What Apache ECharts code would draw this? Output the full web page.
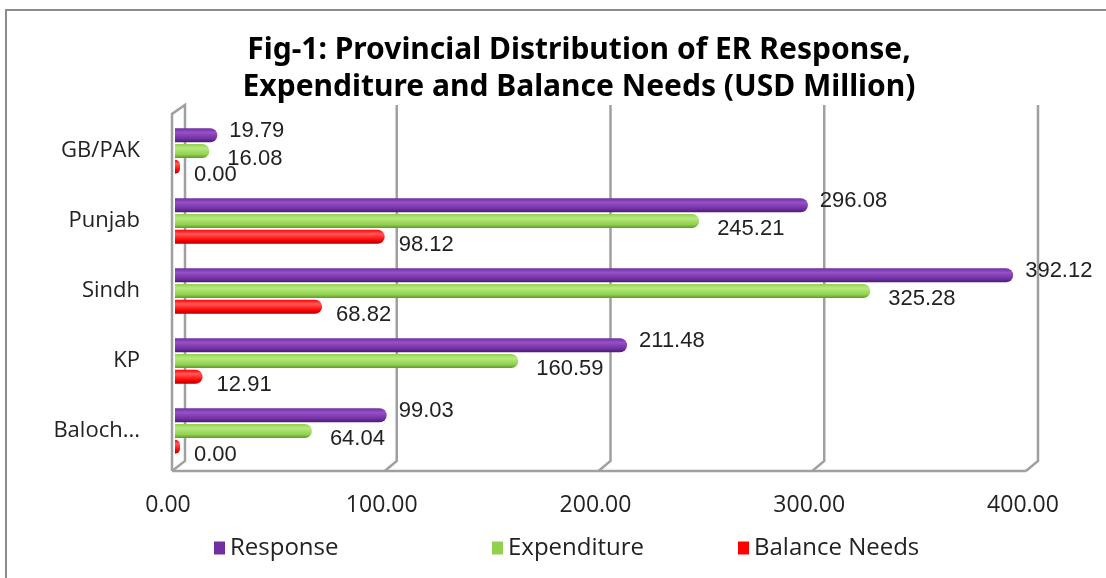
<!DOCTYPE html>
<html>
<head>
<meta charset="utf-8">
<title>Fig-1</title>
<script src="https://cdn.jsdelivr.net/npm/echarts@6/dist/echarts.min.js"></script>
<style>
  html, body { margin: 0; padding: 0; background: #fff; }
  #chart { width: 1106px; height: 578px; }
</style>
</head>
<body>
<div id="chart"></div>
<script>
// provinces, top to bottom as in the figure
const provinces = ['GB/PAK', 'Punjab', 'Sindh', 'KP', 'Balochistan'];
const response = [19.79, 296.08, 392.12, 211.48, 99.03];
const expenditure = [16.08, 245.21, 325.28, 160.59, 64.04];
const balanceNeeds = [0.00, 98.12, 68.82, 12.91, 0.00];
const xTicks = [0, 100, 200, 300, 400];

const seriesColors = { 'Response': '#7030a0', 'Expenditure': '#92d050', 'Balance Needs': '#ff0000' };

const labelFont = '"Open Sans", "Noto Sans", sans-serif';
const valueFont = '"Liberation Sans", Arial, sans-serif';
const wallColor = '#a0a0a0';

// cylinder look: light band across the bar, darker edges
function tube(light, mid, dark) {
  return new echarts.graphic.LinearGradient(0, 0, 0, 1, [
    { offset: 0, color: mid },
    { offset: 0.3, color: light },
    { offset: 0.75, color: mid },
    { offset: 1, color: dark }
  ]);
}

function makeSeries(name, data, colors, label, extra) {
  return Object.assign({
    name: name,
    type: 'bar',
    data: data,
    barWidth: 14,
    barGap: '12%',
    itemStyle: {
      color: tube(colors[0], colors[1], colors[2]),
      borderRadius: [0, 7, 7, 0]
    },
    label: Object.assign({
      show: true,
      position: 'right',
      color: '#222',
      fontFamily: valueFont,
      fontSize: 22,
      formatter: (p) => p.value.toFixed(2)
    }, label)
  }, extra || {});
}

const chart = echarts.init(document.getElementById('chart'));

const option = {
  backgroundColor: '#fff',
  animation: false,
  title: {
    text: 'Fig-1: Provincial Distribution of ER Response,\nExpenditure and Balance Needs (USD Million)',
    left: 574,
    textAlign: 'center',
    top: 27,
    textStyle: {
      fontFamily: '"Noto Sans", "Open Sans", sans-serif',
      fontWeight: 'bold',
      fontSize: 30,
      lineHeight: 37,
      color: '#000'
    }
  },
  legend: [
    { left: 209, name: 'Response' },
    { left: 487, name: 'Expenditure' },
    { left: 733, name: 'Balance Needs' }
  ].map((l) => ({
    left: l.left,
    top: 531,
    data: [{ name: l.name, itemStyle: { color: seriesColors[l.name] } }],
    icon: 'rect',
    itemWidth: 11,
    itemHeight: 13,
    itemGap: 0,
    textStyle: { fontFamily: labelFont, fontSize: 24, color: '#222' }
  })),
  grid: {
    left: 175,
    right: 76,
    top: 116,
    bottom: 112
  },
  xAxis: {
    type: 'value',
    min: xTicks[0],
    max: xTicks[xTicks.length - 1],
    interval: 100,
    axisLine: { show: false },
    axisTick: { show: false },
    splitLine: { show: false },
    axisLabel: {
      margin: 28,
      fontFamily: labelFont,
      fontSize: 23,
      color: '#222',
      padding: [0, 14, 0, 0],
      formatter: (v) => v.toFixed(2)
    }
  },
  yAxis: {
    type: 'category',
    data: provinces,
    inverse: true,
    axisLine: { show: false },
    axisTick: { show: false },
    axisLabel: {
      margin: 35,
      fontFamily: labelFont,
      fontSize: 22,
      color: '#222',
      width: 88,
      overflow: 'truncate',
      ellipsis: '...'
    }
  },
  series: [
    makeSeries('Response', response, ['#9650c8', '#7030a0', '#4a1a70'],
      { distance: 12, offset: [0, -4] }),
    makeSeries('Expenditure', expenditure, ['#b6ea7c', '#92d050', '#5e9a2c'],
      { distance: 18, offset: [0, 8] }),
    makeSeries('Balance Needs', balanceNeeds, ['#ff5a5a', '#ff0000', '#a80000'],
      { distance: 14, offset: [0, 8] }, { barMinHeight: 5 })
  ]
};

chart.setOption(option);

// 3D-style walls: back gridlines slightly right of the ticks, folding to the floor edge
const wallTop = 105, wallBack = 461, wallFront = 471;
const px = (v) => chart.convertToPixel({ xAxisIndex: 0 }, v);
const wallLine = (points) => ({
  type: 'polyline',
  shape: { points: points },
  style: { fill: 'none', stroke: wallColor, lineWidth: 2.5 },
  silent: true,
  z: -1
});
const frame = [
  {
    type: 'rect',
    shape: { x: 6, y: 10, width: 1200, height: 700 },
    style: { fill: 'none', stroke: '#8c8c8c', lineWidth: 2 },
    silent: true
  }
];
const x0 = px(xTicks[0]);
frame.push(wallLine([[x0 - 3, wallFront], [x0 - 3, wallTop + 9], [x0 + 10, wallTop], [x0 + 10, wallBack], [x0 - 3, wallFront]]));
xTicks.slice(1).forEach((v) => {
  const x = px(v);
  frame.push(wallLine([[x + 8, wallTop], [x + 8, wallBack], [x - 4, wallFront]]));
});
frame.push(wallLine([[x0 - 3, wallFront], [px(xTicks[xTicks.length - 1]) - 4, wallFront]]));
chart.setOption({ graphic: frame });
</script>
</body>
</html>
